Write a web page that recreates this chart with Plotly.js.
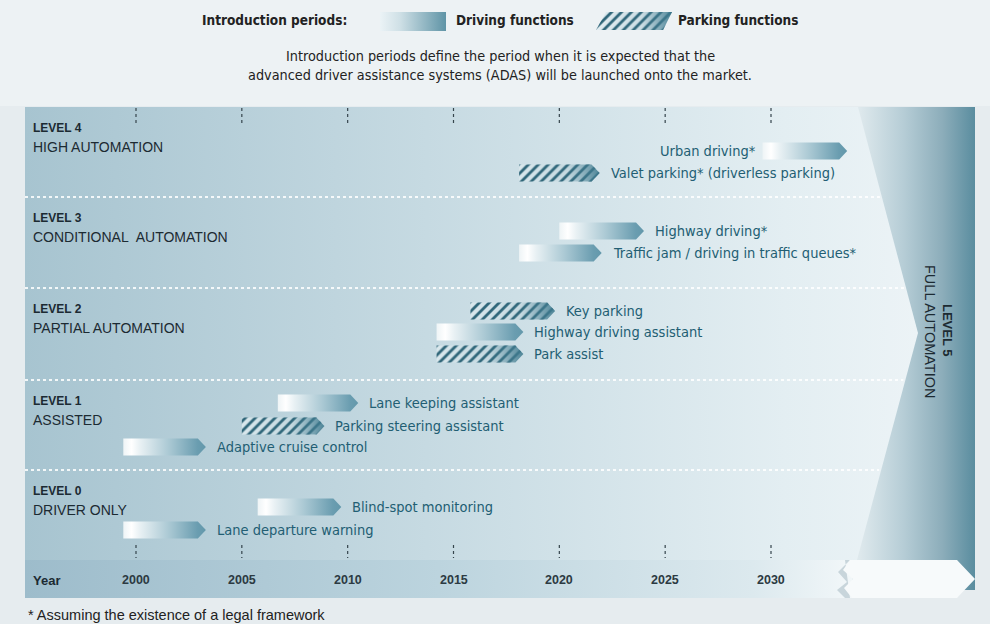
<!DOCTYPE html>
<html><head><meta charset="utf-8">
<script src="https://cdn.plot.ly/plotly-3.0.1.min.js"></script>
<style>html,body{margin:0;padding:0;background:#e9eef1;}#chart{width:990px;height:624px;}</style>
</head><body><div id="chart"></div>
<script>
// ---------------- DATA ----------------
const levelNames  = ['LEVEL 4', 'LEVEL 3', 'LEVEL 2', 'LEVEL 1', 'LEVEL 0'];
const levelTitles = ['HIGH AUTOMATION', 'CONDITIONAL\u00a0 AUTOMATION', 'PARTIAL AUTOMATION', 'ASSISTED', 'DRIVER ONLY'];
const levelIds    = [4, 3, 2, 1, 0];

const functionNames = [
  'Urban driving*', 'Valet parking* (driverless parking)',
  'Highway driving*', 'Traffic jam / driving in traffic queues*',
  'Key parking', 'Highway driving assistant', 'Park assist',
  'Lane keeping assistant', 'Parking steering assistant', 'Adaptive cruise control',
  'Blind-spot monitoring', 'Lane departure warning'
];
const functionLevel = [4, 4, 3, 3, 2, 2, 2, 1, 1, 1, 0, 0];
const functionType  = ['driving', 'parking', 'driving', 'driving', 'parking', 'driving', 'parking',
                       'driving', 'parking', 'driving', 'driving', 'driving'];
const startYear = [2029.6, 2018.1, 2020.0, 2018.1, 2015.8, 2014.2, 2014.2, 2006.7, 2005.0, 1999.4, 2005.75, 1999.4];
const endYear   = [2033.6, 2021.9, 2024.0, 2022.0, 2019.8, 2018.3, 2018.3, 2010.5, 2008.9, 2003.3, 2009.7, 2003.3];

const yearTicks = [2000, 2005, 2010, 2015, 2020, 2025, 2030];
const yearTickLabels = ['2000', '2005', '2010', '2015', '2020', '2025', '2030'];

// ---------------- LAYOUT CONFIG ----------------
const W = 990, H = 624;
const PXY = 635 / 30;                 // pixels per year
const X0 = 2000 - 136 / PXY;          // year at left page edge
const X1 = X0 + W / PXY;
const px = p => X0 + p / PXY;         // page pixel -> axis year

const BAND_TOP = {4: 107, 3: 197, 2: 288, 1: 380, 0: 470};
const BAND_BOTTOM = 560;
const ROW_OFFSETS = {4: [44, 66], 3: [34, 56], 2: [23, 44, 66], 1: [23, 46, 67], 0: [37, 60]};
const BAR_HALF = 8.5;
const TIP = 8 / PXY;

const COND = "'Liberation Sans Narrow', 'DejaVu Sans Condensed', Roboto, sans-serif";
const SANS = "'Liberation Sans', Arial, sans-serif";
const TEAL_TEXT = '#225e73';
const DARK = '#1c2a32';

const DRIVE_SCALE = [[0, '#eef4f6'], [0.1, '#ffffff'], [0.2, '#e9f1f4'], [0.55, '#abc9d4'], [0.9, '#6a9db0'], [1, '#6398ab']];
const HATCH_OVER = [[0, 'rgba(80,135,155,0)'], [0.6, 'rgba(80,135,155,0.15)'], [1, 'rgba(62,122,142,0.9)']];

function poly(xs, ys, extra) {
  return Object.assign({type: 'scatter', x: xs, y: ys, mode: 'lines', line: {width: 0},
    fill: 'toself', hoverinfo: 'skip', showlegend: false}, extra);
}
function grad(scale) { return {type: 'horizontal', colorscale: scale}; }

const traces = [];
const shapes = [];
const annotations = [];

// top light strip
traces.push(poly([px(0), px(W), px(W), px(0)], [0, 0, 106, 106], {fillcolor: '#edf2f4'}));

// level 5 panel
traces.push(poly([px(845), px(975), px(975), px(845)], [107, 107, 590, 590],
  {fillgradient: grad([[0, '#e6eef1'], [0.12, '#dde8ec'], [0.45, '#b6cdd6'], [0.75, '#8cadba'], [1, '#5a8d9f']])}));

// main panel with chevron edge
traces.push(poly([px(25), px(858), px(918), px(857), px(25)], [107, 107, 333, BAND_BOTTOM, BAND_BOTTOM],
  {fillgradient: grad([[0, '#a7c4d0'], [0.45, '#c6dae2'], [0.85, '#e3eef2'], [1, '#ecf3f6']])}));

// year band
traces.push(poly([px(25), px(852), px(852), px(25)], [560, 560, 598, 598],
  {fillgradient: grad([[0, '#9dbccb'], [0.5, '#bcd4de'], [0.88, '#dce9ee'], [1, '#f2f7f9']])}));
// zigzag shadow + white arrow
traces.push(poly([px(845), px(850), px(838), px(847), px(837), px(845), px(850)],
  [560, 560, 572, 582, 590, 598, 598], {fillcolor: '#c8d5db'}));
traces.push(poly([px(850), px(957), px(975), px(957), px(852), px(844), px(853), px(843)],
  [560, 560, 579, 598, 598, 588, 579, 570], {fillcolor: '#f7fafb'}));

// separators
[197, 288, 380, 470].forEach(y => {
  const xr = y <= 333 ? 858 + (y - 107) / (333 - 107) * 60 : 918 - (y - 333) / (560 - 333) * 61;
  shapes.push({type: 'line', xref: 'x', yref: 'y', x0: px(25), x1: px(xr - 2), y0: y, y1: y,
    line: {color: 'rgba(255,255,255,0.85)', width: 2, dash: 'dot'}, layer: 'above'});
});

// year tick marks + labels
yearTicks.forEach((yr, i) => {
  [[108, 125], [545, 558]].forEach(([a, b]) => {
    shapes.push({type: 'line', xref: 'x', yref: 'y', x0: yr, x1: yr, y0: a, y1: b,
      line: {color: '#36454d', width: 1.2, dash: 'dot'}, layer: 'above'});
  });
  annotations.push({xref: 'x', yref: 'y', x: yr, y: 580, text: '<b>' + yearTickLabels[i] + '</b>',
    showarrow: false, xanchor: 'center', yanchor: 'middle', font: {family: SANS, size: 12.5, color: '#2c3a42'}});
});
annotations.push({xref: 'paper', yref: 'y', x: 31 / W, y: 580, text: '<b>Year</b>', showarrow: false,
  xanchor: 'left', yanchor: 'middle', font: {family: SANS, size: 13, color: DARK}});

// level labels
levelIds.forEach((lv, i) => {
  const top = BAND_TOP[lv];
  annotations.push({xref: 'paper', yref: 'y', x: 31 / W, y: top + 21, text: '<b>' + levelNames[i] + '</b>',
    showarrow: false, xanchor: 'left', yanchor: 'middle', font: {family: SANS, size: 12, color: DARK}});
  annotations.push({xref: 'paper', yref: 'y', x: 31 / W, y: top + 40, text: levelTitles[i],
    showarrow: false, xanchor: 'left', yanchor: 'middle', font: {family: SANS, size: 14, color: DARK}});
});

// bars
const slotUsed = {4: 0, 3: 0, 2: 0, 1: 0, 0: 0};
functionNames.forEach((name, i) => {
  const lv = functionLevel[i];
  const yc = BAND_TOP[lv] + ROW_OFFSETS[lv][slotUsed[lv]++];
  const s = startYear[i], e = endYear[i];
  const xs = [s, e - TIP, e, e - TIP, s, s];
  const ys = [yc - BAR_HALF, yc - BAR_HALF, yc, yc + BAR_HALF, yc + BAR_HALF, yc - BAR_HALF];
  if (functionType[i] === 'driving') {
    traces.push(poly(xs, ys, {fillgradient: grad(DRIVE_SCALE)}));
  } else {
    traces.push(poly(xs, ys, {fillcolor: '#d9e7ec',
      fillpattern: {shape: '/', size: 7, solidity: 0.4, fgcolor: '#2d6477', bgcolor: '#d9e7ec'}}));
    traces.push(poly(xs, ys, {fillgradient: grad(HATCH_OVER)}));
  }
  const left = e > 2030;
  annotations.push({xref: 'x', yref: 'y', x: left ? s : e, xshift: left ? -5 : 9, y: yc, text: name,
    showarrow: false, xanchor: left ? 'right' : 'left', yanchor: 'middle',
    font: {family: COND, size: 14.5, color: TEAL_TEXT}});
});

// level 5 label
annotations.push({xref: 'paper', yref: 'y', x: 948 / W, y: 330, text: '<b>LEVEL 5</b>',
  textangle: 90, showarrow: false, xanchor: 'center', yanchor: 'middle',
  font: {family: SANS, size: 13, color: DARK}});
annotations.push({xref: 'paper', yref: 'y', x: 930 / W, y: 331, text: 'FULL AUTOMATION',
  textangle: 90, showarrow: false, xanchor: 'center', yanchor: 'middle',
  font: {family: SANS, size: 14.5, color: DARK}});

// top legend
annotations.push({xref: 'paper', yref: 'y', x: 200 / W, y: 20, text: '<b>Introduction periods:</b>', showarrow: false,
  xanchor: 'left', yanchor: 'middle', font: {family: COND, size: 13.5, color: '#222'}});
traces.push(poly([px(380), px(446), px(446), px(380)], [12, 12, 31, 31],
  {fillgradient: grad([[0, 'rgba(235,243,246,1)'], [0.3, '#cfe0e6'], [1, '#5f94a6']])}));
annotations.push({xref: 'paper', yref: 'y', x: 454 / W, y: 20, text: '<b>Driving functions</b>', showarrow: false,
  xanchor: 'left', yanchor: 'middle', font: {family: COND, size: 13.5, color: '#222'}});
traces.push(poly([px(606), px(672), px(663), px(596)], [12, 12, 30, 30], {fillcolor: '#e2edf1',
  fillpattern: {shape: '/', size: 7, solidity: 0.4, fgcolor: '#2d6477', bgcolor: '#e2edf1'}}));
traces.push(poly([px(606), px(672), px(663), px(596)], [12, 12, 30, 30], {fillgradient: grad(HATCH_OVER)}));
annotations.push({xref: 'paper', yref: 'y', x: 676 / W, y: 20, text: '<b>Parking functions</b>', showarrow: false,
  xanchor: 'left', yanchor: 'middle', font: {family: COND, size: 13.5, color: '#222'}});

annotations.push({xref: 'paper', yref: 'y', x: 500 / W, y: 56,
  text: 'Introduction periods define the period when it is expected that the', showarrow: false,
  xanchor: 'center', yanchor: 'middle', font: {family: COND, size: 14.3, color: '#222'}});
annotations.push({xref: 'paper', yref: 'y', x: 500 / W, y: 75,
  text: 'advanced driver assistance systems (ADAS) will be launched onto the market.', showarrow: false,
  xanchor: 'center', yanchor: 'middle', font: {family: COND, size: 14.3, color: '#222'}});

// footnote
annotations.push({xref: 'paper', yref: 'y', x: 26 / W, y: 615, text: '* Assuming the existence of a legal framework',
  showarrow: false, xanchor: 'left', yanchor: 'middle', font: {family: SANS, size: 14.5, color: '#222'}});

const layout = {
  width: W, height: H, margin: {l: 0, r: 0, t: 0, b: 0, pad: 0},
  paper_bgcolor: '#e6ecef', plot_bgcolor: 'rgba(0,0,0,0)',
  xaxis: {range: [X0, X1], visible: false, fixedrange: true},
  yaxis: {range: [H, 0], visible: false, fixedrange: true},
  shapes: shapes, annotations: annotations, showlegend: false
};
Plotly.newPlot('chart', traces, layout, {displayModeBar: false, staticPlot: true});
</script>
</body></html>
